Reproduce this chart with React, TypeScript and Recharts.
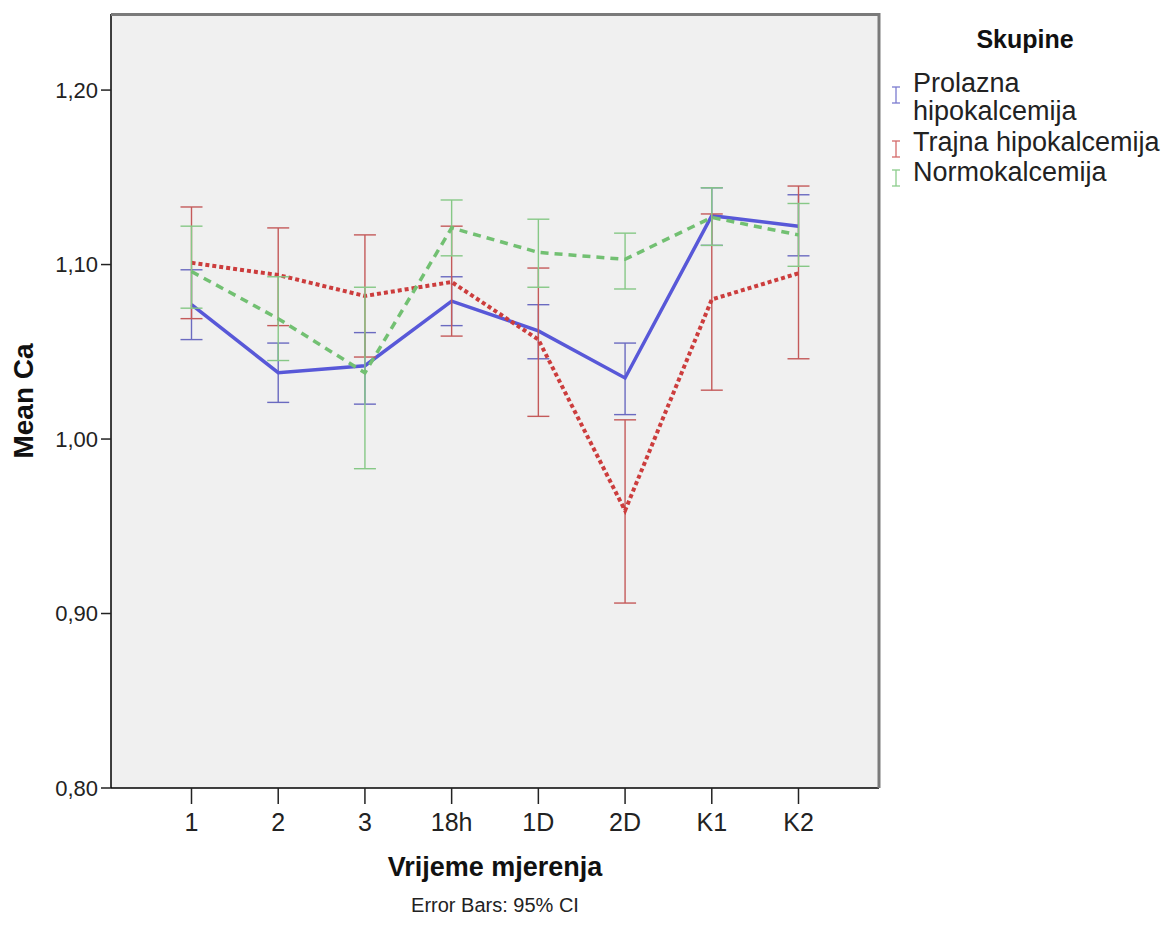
import React from 'react';
import { LineChart, Line, XAxis, YAxis, CartesianGrid, ErrorBar } from 'recharts';

const categories = ['1', '2', '3', '18h', '1D', '2D', 'K1', 'K2'];

const prolaznaMean = [1.077, 1.038, 1.042, 1.079, 1.062, 1.035, 1.128, 1.122];
const prolaznaLow = [1.057, 1.021, 1.020, 1.065, 1.046, 1.014, 1.111, 1.105];
const prolaznaHigh = [1.097, 1.055, 1.061, 1.093, 1.077, 1.055, 1.144, 1.140];

const trajnaMean = [1.101, 1.094, 1.082, 1.090, 1.057, 0.959, 1.080, 1.095];
const trajnaLow = [1.069, 1.065, 1.047, 1.059, 1.013, 0.906, 1.028, 1.046];
const trajnaHigh = [1.133, 1.121, 1.117, 1.122, 1.098, 1.011, 1.129, 1.145];

const normoMean = [1.096, 1.069, 1.038, 1.121, 1.107, 1.103, 1.127, 1.117];
const normoLow = [1.075, 1.045, 0.983, 1.105, 1.087, 1.086, 1.111, 1.099];
const normoHigh = [1.122, 1.093, 1.087, 1.137, 1.126, 1.118, 1.144, 1.135];

const yTicks = [0.8, 0.9, 1.0, 1.1, 1.2];
const yDomain = [0.8, 1.2436];

const seriesNames = ['Prolazna', 'hipokalcemija', 'Trajna hipokalcemija', 'Normokalcemija'];

const BLUE = '#5858d8';
const RED = '#cc3d3d';
const GREEN = '#72c072';
const BLUE_ERR = '#6a6ac0';
const RED_ERR = '#c45a5a';
const GREEN_ERR = '#86c886';

const data = categories.map((cat, i) => ({
  cat,
  blue: prolaznaMean[i],
  blueErr: [prolaznaMean[i] - prolaznaLow[i], prolaznaHigh[i] - prolaznaMean[i]],
  red: trajnaMean[i],
  redErr: [trajnaMean[i] - trajnaLow[i], trajnaHigh[i] - trajnaMean[i]],
  green: normoMean[i],
  greenErr: [normoMean[i] - normoLow[i], normoHigh[i] - normoMean[i]],
}));

const FONT = 'Liberation Sans, Arial, sans-serif';

const Icon = ({ x, y, color }: { x: number; y: number; color: string }) => (
  <g stroke={color} strokeWidth={1.3}>
    <line x1={x} y1={y - 8} x2={x} y2={y + 8} />
    <line x1={x - 4} y1={y - 8} x2={x + 4} y2={y - 8} />
    <line x1={x - 4} y1={y + 8} x2={x + 4} y2={y + 8} />
  </g>
);

export default function App() {
  return (
    <div style={{ position: 'relative', width: 1167, height: 935, fontFamily: FONT }}>
      <LineChart
        width={1167}
        height={935}
        data={data}
        margin={{ top: 6, right: 296, bottom: 115, left: 40 }}
      >
        <CartesianGrid fill="#f0f0f0" horizontal={false} vertical={false} stroke="none" />
        <XAxis
          dataKey="cat"
          padding={{ left: 80.5, right: 80.5 }}
          height={40}
          tickSize={16}
          tickMargin={9}
          axisLine={{ stroke: '#000', strokeWidth: 1.5 }}
          tickLine={{ stroke: '#222', strokeWidth: 1.5 }}
          tick={{ fontSize: 25, fill: '#222', fontFamily: FONT }}
        />
        <YAxis
          type="number"
          domain={yDomain}
          ticks={yTicks}
          allowDataOverflow
          width={63}
          tickSize={10}
          tickMargin={3}
          axisLine={{ stroke: '#000', strokeWidth: 1.5 }}
          tickLine={{ stroke: '#222', strokeWidth: 1.5 }}
          tick={{ fontSize: 22, fill: '#222', fontFamily: FONT }}
          tickFormatter={(v: number) => v.toFixed(2).replace('.', ',')}
        />
        <Line
          dataKey="blue"
          stroke={BLUE}
          strokeWidth={3.5}
          dot={false}
          activeDot={false}
          isAnimationActive={false}
        >
          <ErrorBar dataKey="blueErr" width={11} stroke={BLUE_ERR} strokeWidth={1.4} direction="y" />
        </Line>
        <Line
          dataKey="red"
          stroke={RED}
          strokeWidth={4}
          strokeDasharray="4 3"
          dot={false}
          activeDot={false}
          isAnimationActive={false}
        >
          <ErrorBar dataKey="redErr" width={11} stroke={RED_ERR} strokeWidth={1.4} direction="y" />
        </Line>
        <Line
          dataKey="green"
          stroke={GREEN}
          strokeWidth={3.5}
          strokeDasharray="8 6"
          dot={false}
          activeDot={false}
          isAnimationActive={false}
        >
          <ErrorBar dataKey="greenErr" width={11} stroke={GREEN_ERR} strokeWidth={1.4} direction="y" />
        </Line>
      </LineChart>
      <svg
        width={1167}
        height={935}
        style={{ position: 'absolute', left: 0, top: 0, pointerEvents: 'none' }}
      >
        <polyline points="103,6.5 871,6.5 871,780" fill="none" stroke="#7a7a7a" strokeWidth={3} />
        <text
          transform="translate(15,393) rotate(-90)"
          textAnchor="middle"
          dy="0.35em"
          fontSize={28}
          fontWeight="bold"
          fill="#111"
          fontFamily={FONT}
        >
          Mean Ca
        </text>
        <text x={487} y={868} textAnchor="middle" fontSize={27} fontWeight="bold" fill="#111" fontFamily={FONT}>
          Vrijeme mjerenja
        </text>
        <text x={487} y={904} textAnchor="middle" fontSize={20} fill="#222" fontFamily={FONT}>
          Error Bars: 95% CI
        </text>
        <text x={1017} y={40} textAnchor="middle" fontSize={25} fontWeight="bold" fill="#111" fontFamily={FONT}>
          Skupine
        </text>
        <Icon x={888} y={87} color="#7b7bd0" />
        <text x={905} y={84} fontSize={27} fill="#222" fontFamily={FONT}>{seriesNames[0]}</text>
        <text x={905} y={112} fontSize={27} fill="#222" fontFamily={FONT}>{seriesNames[1]}</text>
        <Icon x={888} y={141} color="#d46a6a" />
        <text x={905} y={143} fontSize={27} fill="#222" fontFamily={FONT}>{seriesNames[2]}</text>
        <Icon x={888} y={170} color="#8ccc8c" />
        <text x={905} y={173} fontSize={27} fill="#222" fontFamily={FONT}>{seriesNames[3]}</text>
      </svg>
    </div>
  );
}
